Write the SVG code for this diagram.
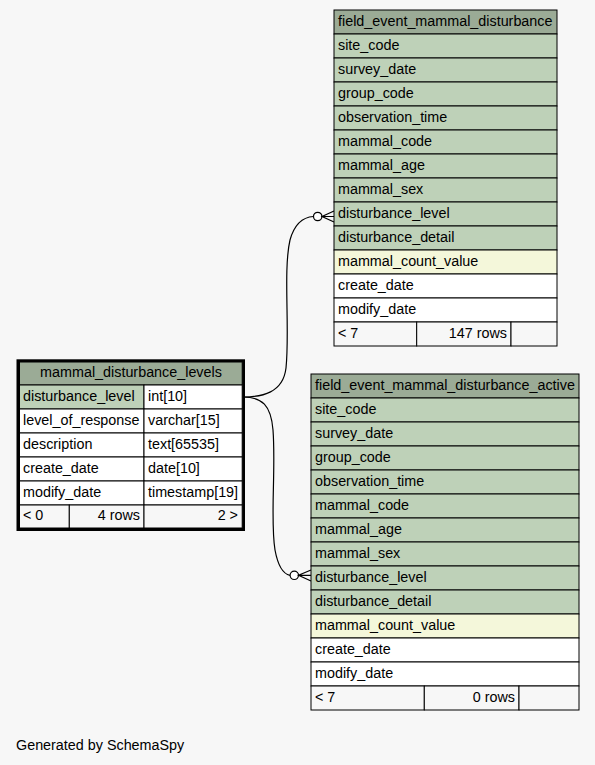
<svg xmlns="http://www.w3.org/2000/svg" width="595" height="765" viewBox="0 0 595 765">
<style>
text{font-family:"Liberation Sans",Arial,sans-serif;font-size:14.35px;fill:#000}
.c{stroke:#000;stroke-width:1}
.h{fill:#9bab96}
.k{fill:#bed1b8}
.i{fill:#f4f7da}
.w{fill:#ffffff}
.f{fill:#f7f7f7}
.e{fill:none;stroke:#000;stroke-width:1.2}
.r{text-anchor:end}
.m{text-anchor:middle}
</style>
<rect width="595" height="765" fill="#f7f7f7"/>
<g id="connectors">
<path class="e" d="M243,397 C262,397 283,393 286,368 C290,330 283,270 290,240 C295,222 305,217 313.5,216.5"/>
<circle cx="317.7" cy="216.5" r="4.2" fill="#fff" stroke="#000" stroke-width="1.2"/>
<path class="e" d="M334,211 L322,216.5 L334,222 M322,216.5 L334,216.5"/>
<path class="e" d="M243,397 C262,397 271,405 273,430 C276,470 270,520 275,550 C278,566 283,574 290,575.3"/>
<circle cx="294.3" cy="575.3" r="4.2" fill="#fff" stroke="#000" stroke-width="1.2"/>
<path class="e" d="M311,570 L298.5,575.3 L311,581 M298.5,575.3 L311,575.3"/>
</g>
<g id="field_event_mammal_disturbance">
<rect class="c h" x="334" y="10" width="223" height="24"/>
<text x="338" y="26">field_event_mammal_disturbance</text>
<rect class="c k" x="334" y="34" width="223" height="24"/><text x="338" y="50">site_code</text>
<rect class="c k" x="334" y="58" width="223" height="24"/><text x="338" y="74">survey_date</text>
<rect class="c k" x="334" y="82" width="223" height="24"/><text x="338" y="98">group_code</text>
<rect class="c k" x="334" y="106" width="223" height="24"/><text x="338" y="122">observation_time</text>
<rect class="c k" x="334" y="130" width="223" height="24"/><text x="338" y="146">mammal_code</text>
<rect class="c k" x="334" y="154" width="223" height="24"/><text x="338" y="170">mammal_age</text>
<rect class="c k" x="334" y="178" width="223" height="24"/><text x="338" y="194">mammal_sex</text>
<rect class="c k" x="334" y="202" width="223" height="24"/><text x="338" y="218">disturbance_level</text>
<rect class="c k" x="334" y="226" width="223" height="24"/><text x="338" y="242">disturbance_detail</text>
<rect class="c i" x="334" y="250" width="223" height="24"/><text x="338" y="266">mammal_count_value</text>
<rect class="c w" x="334" y="274" width="223" height="24"/><text x="338" y="290">create_date</text>
<rect class="c w" x="334" y="298" width="223" height="24"/><text x="338" y="314">modify_date</text>
<rect class="c f" x="334" y="322" width="82.7" height="24"/><text x="338" y="338">&lt; 7</text>
<rect class="c f" x="416.7" y="322" width="94.3" height="24"/><text class="r" x="507" y="338">147 rows</text>
<rect class="c f" x="511" y="322" width="46" height="24"/>
</g>
<g id="field_event_mammal_disturbance_active">
<rect class="c h" x="311" y="374" width="268" height="24"/>
<text x="315" y="390">field_event_mammal_disturbance_active</text>
<rect class="c k" x="311" y="398" width="268" height="24"/><text x="315" y="414">site_code</text>
<rect class="c k" x="311" y="422" width="268" height="24"/><text x="315" y="438">survey_date</text>
<rect class="c k" x="311" y="446" width="268" height="24"/><text x="315" y="462">group_code</text>
<rect class="c k" x="311" y="470" width="268" height="24"/><text x="315" y="486">observation_time</text>
<rect class="c k" x="311" y="494" width="268" height="24"/><text x="315" y="510">mammal_code</text>
<rect class="c k" x="311" y="518" width="268" height="24"/><text x="315" y="534">mammal_age</text>
<rect class="c k" x="311" y="542" width="268" height="24"/><text x="315" y="558">mammal_sex</text>
<rect class="c k" x="311" y="566" width="268" height="24"/><text x="315" y="582">disturbance_level</text>
<rect class="c k" x="311" y="590" width="268" height="24"/><text x="315" y="606">disturbance_detail</text>
<rect class="c i" x="311" y="614" width="268" height="24"/><text x="315" y="630">mammal_count_value</text>
<rect class="c w" x="311" y="638" width="268" height="24"/><text x="315" y="654">create_date</text>
<rect class="c w" x="311" y="662" width="268" height="24"/><text x="315" y="678">modify_date</text>
<rect class="c f" x="311" y="686" width="113.3" height="24"/><text x="315" y="702">&lt; 7</text>
<rect class="c f" x="424.3" y="686" width="94.7" height="24"/><text class="r" x="515" y="702">0 rows</text>
<rect class="c f" x="519" y="686" width="60" height="24"/>
</g>
<g id="mammal_disturbance_levels">
<rect x="18" y="360.8" width="225.5" height="168.7" fill="none" stroke="#000" stroke-width="3"/>
<rect class="c h" x="19.5" y="362" width="222.7" height="23"/>
<text class="m" x="131" y="377">mammal_disturbance_levels</text>
<rect class="c k" x="19.5" y="385" width="124.5" height="24"/><text x="23" y="401">disturbance_level</text>
<rect class="c w" x="144" y="385" width="98.2" height="24"/><text x="148" y="401">int[10]</text>
<rect class="c w" x="19.5" y="409" width="124.5" height="24"/><text x="23" y="425">level_of_response</text>
<rect class="c w" x="144" y="409" width="98.2" height="24"/><text x="148" y="425">varchar[15]</text>
<rect class="c w" x="19.5" y="433" width="124.5" height="24"/><text x="23" y="449">description</text>
<rect class="c w" x="144" y="433" width="98.2" height="24"/><text x="148" y="449">text[65535]</text>
<rect class="c w" x="19.5" y="457" width="124.5" height="24"/><text x="23" y="473">create_date</text>
<rect class="c w" x="144" y="457" width="98.2" height="24"/><text x="148" y="473">date[10]</text>
<rect class="c w" x="19.5" y="481" width="124.5" height="24"/><text x="23" y="497">modify_date</text>
<rect class="c w" x="144" y="481" width="98.2" height="24"/><text x="148" y="497">timestamp[19]</text>
<rect class="c f" x="19.5" y="505" width="49.8" height="23"/><text x="23" y="520">&lt; 0</text>
<rect class="c f" x="69.3" y="505" width="74.7" height="23"/><text class="r" x="140" y="520">4 rows</text>
<rect class="c f" x="144" y="505" width="98.2" height="23"/><text class="r" x="238" y="520">2 &gt;</text>
</g>
<text x="16" y="750">Generated by SchemaSpy</text>
</svg>
